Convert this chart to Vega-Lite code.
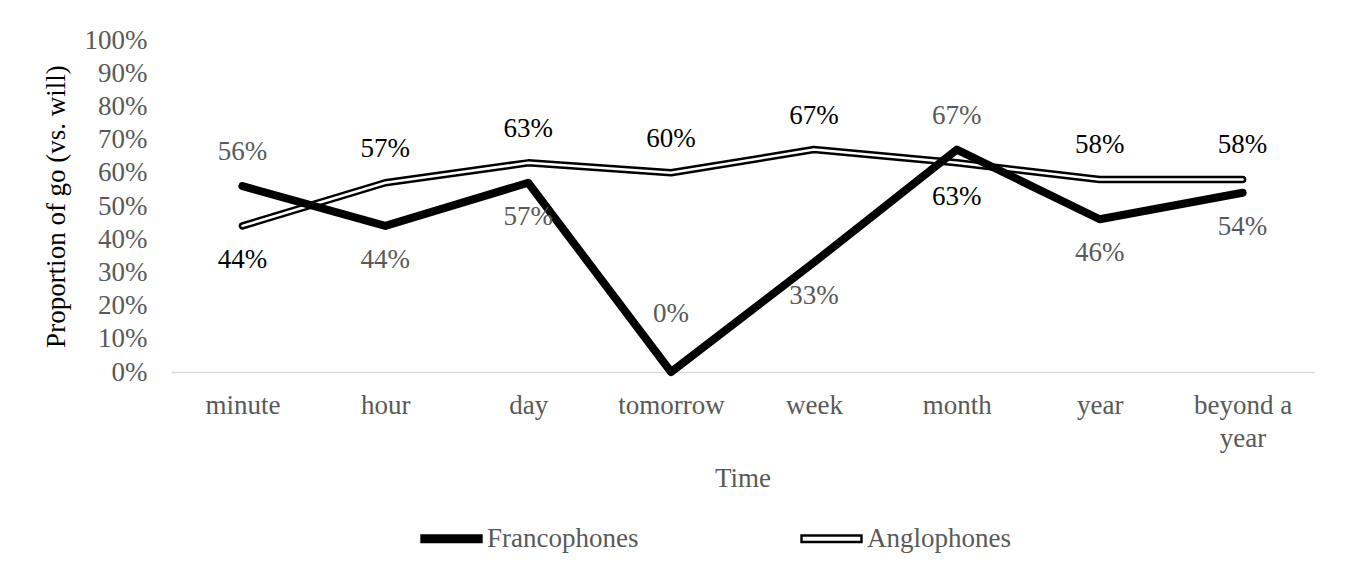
{
  "$schema": "https://vega.github.io/schema/vega-lite/v6.json",
  "width": 1143,
  "height": 332,
  "autosize": {"type": "none"},
  "padding": {"left": 171, "top": 40, "right": 35, "bottom": 213},
  "background": "white",
  "config": {
    "view": {"stroke": null},
    "font": "Liberation Serif",
    "text": {"font": "Liberation Serif"}
  },
  "data": {
    "values": [
      {"time": "minute", "series": "Francophones", "value": 0.56},
      {"time": "hour", "series": "Francophones", "value": 0.44},
      {"time": "day", "series": "Francophones", "value": 0.57},
      {"time": "tomorrow", "series": "Francophones", "value": 0.0},
      {"time": "week", "series": "Francophones", "value": 0.33},
      {"time": "month", "series": "Francophones", "value": 0.67},
      {"time": "year", "series": "Francophones", "value": 0.46},
      {"time": "beyond a year", "series": "Francophones", "value": 0.54},
      {"time": "minute", "series": "Anglophones", "value": 0.44},
      {"time": "hour", "series": "Anglophones", "value": 0.57},
      {"time": "day", "series": "Anglophones", "value": 0.63},
      {"time": "tomorrow", "series": "Anglophones", "value": 0.60},
      {"time": "week", "series": "Anglophones", "value": 0.67},
      {"time": "month", "series": "Anglophones", "value": 0.63},
      {"time": "year", "series": "Anglophones", "value": 0.58},
      {"time": "beyond a year", "series": "Anglophones", "value": 0.58}
    ]
  },
  "encoding": {
    "x": {
      "field": "time",
      "type": "nominal",
      "sort": ["minute", "hour", "day", "tomorrow", "week", "month", "year", "beyond a year"],
      "scale": {"padding": 0.5},
      "axis": {
        "title": "Time",
        "titleFontSize": 27,
        "titleFont": "Liberation Serif",
        "titleFontWeight": "normal",
        "titleColor": "#595959",
        "titlePadding": 14,
        "labelAngle": 0,
        "labelFontSize": 27,
        "labelFont": "Liberation Serif",
        "labelColor": "#595959",
        "labelPadding": 20,
        "labelLineHeight": 33,
        "labelExpr": "datum.label === 'beyond a year' ? ['beyond a', 'year'] : datum.label",
        "ticks": false,
        "grid": false,
        "domainColor": "#d9d9d9",
        "domainWidth": 1.5
      }
    },
    "y": {
      "field": "value",
      "type": "quantitative",
      "scale": {"domain": [0, 1], "nice": false},
      "axis": {
        "title": "Proportion of go (vs. will)",
        "titleFontSize": 27,
        "titleFont": "Liberation Serif",
        "titleFontWeight": "normal",
        "titleColor": "#000000",
        "titlePadding": 14,
        "values": [0, 0.1, 0.2, 0.3, 0.4, 0.5, 0.6, 0.7, 0.8, 0.9, 1],
        "format": ".0%",
        "labelFontSize": 27,
        "labelFont": "Liberation Serif",
        "labelColor": "#595959",
        "labelPadding": 24,
        "ticks": false,
        "domain": false,
        "grid": false
      }
    }
  },
  "layer": [
    {
      "transform": [{"filter": "datum.series === 'Anglophones'"}],
      "mark": {"type": "line", "strokeWidth": 7.5, "strokeCap": "round", "strokeJoin": "round"},
      "encoding": {
        "color": {
          "field": "series",
          "type": "nominal",
          "scale": {"domain": ["Francophones", "Anglophones"], "range": ["#000000", "#000000"]},
          "legend": {
            "title": null,
            "orient": "none",
            "legendX": 249,
            "legendY": 467,
            "direction": "horizontal",
            "labelFontSize": 27,
            "labelFont": "Liberation Serif",
            "labelColor": "#595959",
            "labelOffset": 4,
            "columnPadding": 157,
            "symbolType": "M-1,-0.11H1V0.11H-1Z",
            "symbolSize": 3600,
            "encode": {
              "symbols": {
                "update": {
                  "fill": {"signal": "datum.value === 'Anglophones' ? '#ffffff' : '#000000'"},
                  "stroke": {"value": "#000000"},
                  "strokeWidth": {"value": 2.4},
                  "opacity": {"value": 1}
                }
              }
            }
          }
        }
      }
    },
    {
      "transform": [{"filter": "datum.series === 'Anglophones'"}],
      "mark": {"type": "line", "strokeWidth": 2.5, "color": "#ffffff", "strokeCap": "round", "strokeJoin": "round"},
      "encoding": {}
    },
    {
      "transform": [{"filter": "datum.series === 'Francophones'"}],
      "mark": {"type": "line", "strokeWidth": 8, "strokeCap": "round", "strokeJoin": "round"},
      "encoding": {
        "color": {"field": "series", "type": "nominal"}
      }
    },
    {
      "transform": [{"filter": "(datum.series === 'Francophones' && (datum.time === 'minute' || datum.time === 'month')) || (datum.series === 'Anglophones' && datum.time !== 'minute' && datum.time !== 'month')"}],
      "mark": {"type": "text", "fontSize": 27, "font": "Liberation Serif", "dy": -34, "baseline": "middle"},
      "encoding": {
        "text": {"field": "value", "type": "quantitative", "format": ".0%"},
        "color": {"condition": {"test": "datum.series === 'Francophones'", "value": "#595959"}, "value": "#000000"}
      }
    },
    {
      "transform": [{"filter": "(datum.series === 'Francophones' && datum.time !== 'minute' && datum.time !== 'month' && datum.time !== 'tomorrow') || (datum.series === 'Anglophones' && (datum.time === 'minute' || datum.time === 'month'))"}],
      "mark": {"type": "text", "fontSize": 27, "font": "Liberation Serif", "dy": 34, "baseline": "middle"},
      "encoding": {
        "text": {"field": "value", "type": "quantitative", "format": ".0%"},
        "color": {"condition": {"test": "datum.series === 'Francophones'", "value": "#595959"}, "value": "#000000"}
      }
    },
    {
      "transform": [{"filter": "datum.series === 'Francophones' && datum.time === 'tomorrow'"}],
      "mark": {"type": "text", "fontSize": 27, "font": "Liberation Serif", "dy": -58, "baseline": "middle", "color": "#595959"},
      "encoding": {
        "text": {"field": "value", "type": "quantitative", "format": ".0%"}
      }
    }
  ]
}
